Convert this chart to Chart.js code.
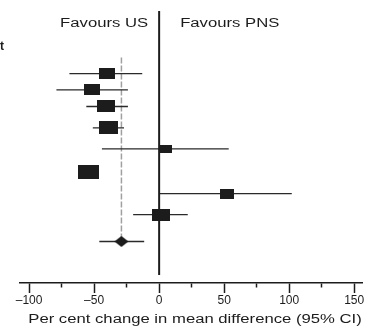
<!DOCTYPE html>
<html>
<head>
<meta charset="utf-8">
<script src="https://cdn.jsdelivr.net/npm/chart.js@4"></script>
<style>
  html, body { margin: 0; padding: 0; background: #fff; }
  #wrap { width: 372px; height: 327px; }
</style>
</head>
<body>
<div id="wrap"><canvas id="forest"></canvas></div>
<script>
// study estimates (per cent change) with 95% CI
const estimates = [-40, -52, -40.5, -38.6, 5.4, -54, 52, 1.5];
const ciLow = [-69, -79, -56, -51, -44, -60, 0.5, -20];
const ciHigh = [-13, -24, -24, -27, 53.5, -48, 102, 22];
const studyWeight = [11.1, 11.1, 14.1, 15.7, 6.3, 19.2, 8.5, 14.1];
const rowPos = [1, 1.79, 2.6, 3.64, 4.66, 5.77, 6.84, 7.86];

// pooled estimate
const pooledEst = -29;
const pooledLow = -46;
const pooledHigh = -11.5;
const pooledRow = 9.17;

const xTicks = [-100, -75, -50, -25, 0, 25, 50, 75, 100, 125, 150];
const headerLeft = 'Favours US';
const headerRight = 'Favours PNS';
const xTitle = 'Per cent change in mean difference (95% CI)';

const INK = '#1c1c1c';
const STRETCH = 1.39;

function boxFor(weight) {
  const w = Math.round(Math.sqrt(weight) * 4.8);
  const h = Math.round(w * 0.68);
  const c = document.createElement('canvas');
  c.width = w;
  c.height = h;
  const g = c.getContext('2d');
  g.fillStyle = INK;
  g.fillRect(0, 0, w, h);
  return c;
}

function diamondBox(w, h) {
  const c = document.createElement('canvas');
  c.width = w;
  c.height = h;
  const g = c.getContext('2d');
  g.fillStyle = INK;
  g.beginPath();
  g.moveTo(w / 2, 0);
  g.lineTo(w, h / 2);
  g.lineTo(w / 2, h);
  g.lineTo(0, h / 2);
  g.closePath();
  g.fill();
  return c;
}

const boxes = studyWeight.map(boxFor);

// CI segments, broken by gaps
const ciSegments = [];
estimates.forEach((e, i) => {
  ciSegments.push({ x: ciLow[i], y: rowPos[i] });
  ciSegments.push({ x: ciHigh[i], y: rowPos[i] });
  ciSegments.push({ x: null, y: null });
});
ciSegments.push({ x: pooledLow, y: pooledRow });
ciSegments.push({ x: pooledHigh, y: pooledRow });

function stretchedText(ctx, text, x, y, align, font) {
  ctx.save();
  ctx.font = font;
  ctx.fillStyle = INK;
  ctx.textBaseline = 'middle';
  const w = ctx.measureText(text).width * STRETCH;
  let left = x;
  if (align === 'center') left = x - w / 2;
  if (align === 'right') left = x - w;
  ctx.translate(left, y);
  ctx.scale(STRETCH, 1);
  ctx.fillText(text, 0, 0);
  ctx.restore();
}

const labelsPlugin = {
  id: 'forestLabels',
  afterDraw(chart) {
    const ctx = chart.ctx;
    const x0 = chart.scales.x.getPixelForValue(0);
    const font = '12px "Liberation Sans", Arial, sans-serif';
    stretchedText(ctx, headerLeft, x0 - 11, 24, 'right', font);
    stretchedText(ctx, headerRight, x0 + 21, 24, 'left', font);
    stretchedText(ctx, xTitle, 195, 320, 'center', font);
    ctx.save();
    ctx.font = 'bold 12px "Liberation Sans", Arial, sans-serif';
    ctx.fillStyle = INK;
    ctx.textBaseline = 'middle';
    ctx.fillText('t', 0, 47);
    ctx.restore();
  }
};

new Chart(document.getElementById('forest'), {
  type: 'scatter',
  data: {
    datasets: [
      {
        label: 'studies',
        data: estimates.map((e, i) => ({ x: e, y: rowPos[i] })),
        pointStyle: (c) => boxes[c.dataIndex],
        pointRadius: 5,
        order: 0
      },
      {
        label: 'pooled',
        data: [{ x: pooledEst, y: pooledRow }],
        pointStyle: diamondBox(14, 11),
        pointRadius: 5,
        order: 0
      },
      {
        label: 'ci',
        data: ciSegments,
        showLine: true,
        spanGaps: false,
        pointRadius: 0,
        borderColor: '#2a2a2a',
        borderWidth: 1.3,
        order: 2
      },
      {
        label: 'no effect',
        data: [{ x: 0, y: -2.05 }, { x: 0, y: 10.8 }],
        showLine: true,
        pointRadius: 0,
        borderColor: INK,
        borderWidth: 2,
        order: 1
      },
      {
        label: 'pooled line',
        data: [{ x: pooledEst, y: 0.22 }, { x: pooledEst, y: pooledRow }],
        showLine: true,
        pointRadius: 0,
        borderColor: '#a0a0a0',
        borderWidth: 1.5,
        borderDash: [6, 2],
        order: 3
      }
    ]
  },
  options: {
    responsive: true,
    maintainAspectRatio: false,
    animation: false,
    events: [],
    layout: { padding: { top: 5, left: 20, right: 10, bottom: 0 } },
    plugins: {
      legend: { display: false },
      tooltip: { enabled: false }
    },
    scales: {
      x: {
        type: 'linear',
        min: -107,
        max: 156,
        afterBuildTicks: (scale) => {
          scale.ticks = xTicks.map(v => ({ value: v }));
        },
        afterFit: (scale) => { scale.height = 44; },
        border: { display: true, color: INK, width: 1.5 },
        grid: {
          drawOnChartArea: false,
          tickLength: 10,
          tickColor: INK,
          tickWidth: 1.5,
          tickBorderDash: (c) => (c.tick && c.tick.value % 50 === 0) ? [] : [4, 30]
        },
        ticks: {
          padding: 0,
          autoSkip: false,
          maxRotation: 0,
          color: INK,
          font: { family: '"Liberation Sans", Arial, sans-serif', size: 12 },
          callback: (v) => v % 50 === 0 ? String(v).replace('-', '\u2013') : ''
        }
      },
      y: {
        type: 'linear',
        display: false,
        reverse: true,
        min: -2.29,
        max: 11.19
      }
    }
  },
  plugins: [labelsPlugin]
});
</script>
</body>
</html>
